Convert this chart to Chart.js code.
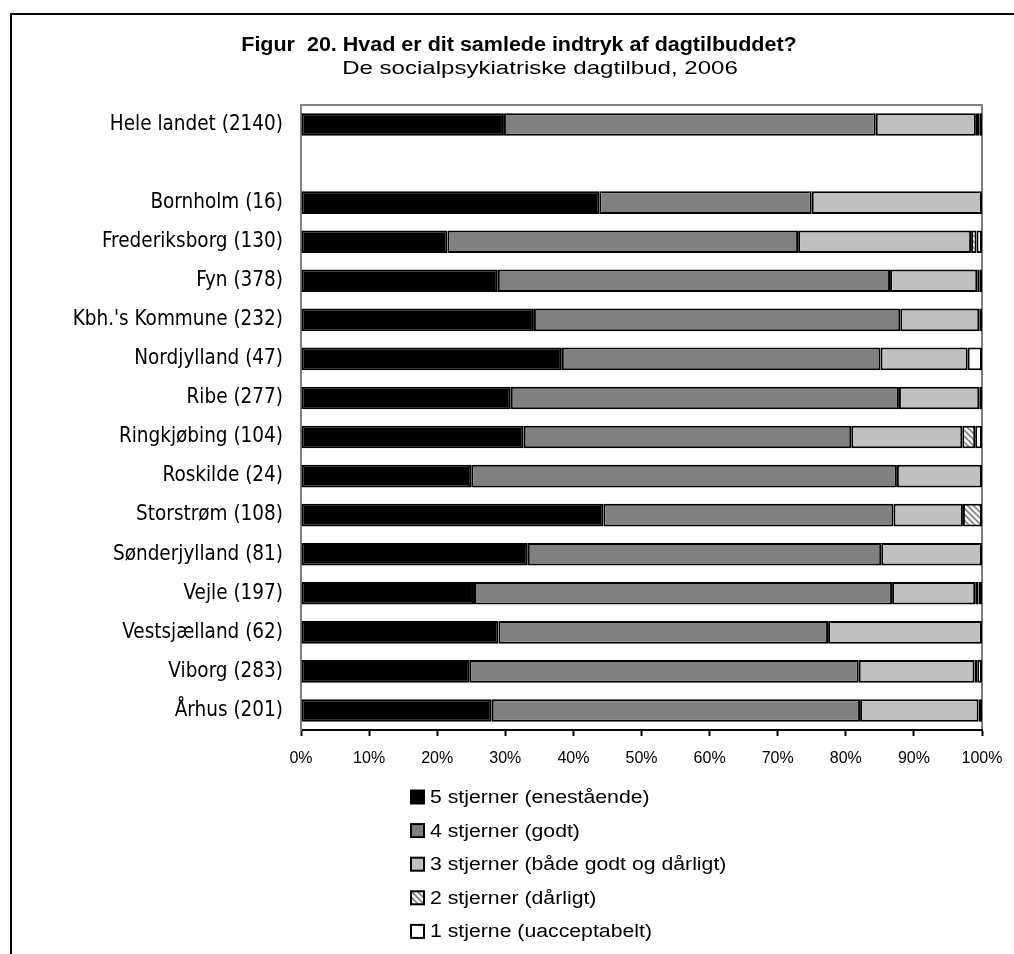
<!DOCTYPE html>
<html>
<head>
<meta charset="utf-8">
<script src="https://cdn.jsdelivr.net/npm/chart.js@4"></script>
<style>
  html, body { margin: 0; padding: 0; background: #fff; }
  #wrap { width: 1014px; height: 954px; }
</style>
</head>
<body>
<div id="wrap"><canvas id="starsChart" width="1014" height="954"></canvas></div>
<script>
const regions = [
  "Hele landet (2140)", "",
  "Bornholm (16)", "Frederiksborg (130)", "Fyn (378)", "Kbh.'s Kommune (232)",
  "Nordjylland (47)", "Ribe (277)", "Ringkjøbing (104)", "Roskilde (24)",
  "Storstrøm (108)", "Sønderjylland (81)", "Vejle (197)", "Vestsjælland (62)",
  "Viborg (283)", "Århus (201)",
];

// percentages per region, same order as above (null = spacer row)
const star5 = [29.8, null, 43.8, 21.5, 28.9, 34.2, 38.3, 30.8, 32.7, 25.0, 44.4, 33.3, 25.4, 29.0, 24.7, 28.0];
const star4 = [54.6, null, 31.2, 51.5, 57.6, 53.8, 46.8, 57.0, 48.1, 62.5, 42.6, 51.9, 61.4, 48.4, 57.2, 54.1];
const star3 = [14.7, null, 25.0, 25.4, 12.8, 11.6, 12.8, 11.8, 16.3, 12.5, 10.2, 14.8, 12.2, 22.6, 17.0, 17.4];
const star2 = [0.5, null, 0, 0.8, 0.3, 0, 0, 0, 1.9, 0, 2.8, 0, 0.5, 0, 0.4, 0.5];
const star1 = [0.4, null, 0, 0.8, 0.4, 0.4, 2.1, 0.4, 1.0, 0, 0, 0, 0.5, 0, 0.7, 0];

const seriesNames = [
  "5 stjerner (enestående)",
  "4 stjerner (godt)",
  "3 stjerner (både godt og dårligt)",
  "2 stjerner (dårligt)",
  "1 stjerne (uacceptabelt)",
];
const xTicks = [0, 10, 20, 30, 40, 50, 60, 70, 80, 90, 100];

const titleText = "Figur  20. Hvad er dit samlede indtryk af dagtilbuddet?";
const subtitleText = "De socialpsykiatriske dagtilbud, 2006";

const labelFont = "'DejaVu Sans Condensed', 'DejaVu Sans', sans-serif";
const arial = "'Liberation Sans', Arial, sans-serif";

// hatch for the "2 stjerner" series
function makeHatch() {
  const c = document.createElement("canvas");
  c.width = 6;
  c.height = 6;
  const g = c.getContext("2d");
  g.fillStyle = "#fff";
  g.fillRect(0, 0, 6, 6);
  g.strokeStyle = "#808080";
  g.lineWidth = 1.6;
  g.beginPath();
  g.moveTo(-1, -1); g.lineTo(7, 7);
  g.moveTo(-4, 2); g.lineTo(4, 10);
  g.moveTo(2, -4); g.lineTo(10, 4);
  g.stroke();
  return g.createPattern(c, "repeat");
}
const hatch = makeHatch();

const fills = ["#000000", "#808080", "#c0c0c0", hatch, "#ffffff"];
const values = [star5, star4, star3, star2, star1];

// text drawn a bit wider than the font, like the original export
function wideText(ctx, text, x, y, font, sx, align) {
  ctx.save();
  ctx.translate(x, y);
  ctx.scale(sx, 1);
  ctx.font = font;
  ctx.textAlign = align;
  ctx.fillText(text, 0, 0);
  ctx.restore();
}

const framePlugin = {
  id: "frame",
  beforeDraw(chart) {
    const ctx = chart.ctx;
    const a = chart.chartArea;
    ctx.save();
    ctx.fillStyle = "#fff";
    ctx.fillRect(0, 0, chart.width, chart.height);
    // outer figure border (left + top)
    ctx.strokeStyle = "#000";
    ctx.lineWidth = 2;
    ctx.beginPath();
    ctx.moveTo(11, chart.height);
    ctx.lineTo(11, 14);
    ctx.lineTo(chart.width, 14);
    ctx.stroke();
    // titles
    ctx.fillStyle = "#000";
    ctx.textBaseline = "alphabetic";
    wideText(ctx, titleText, 519, 51, "bold 20px " + arial, 1.075, "center");
    wideText(ctx, subtitleText, 540, 74, "18.5px " + arial, 1.3, "center");
    // plot area frame
    ctx.strokeStyle = "#808080";
    ctx.lineWidth = 2;
    ctx.beginPath();
    ctx.moveTo(a.left, a.top);
    ctx.lineTo(a.right, a.top);
    ctx.lineTo(a.right, a.bottom);
    ctx.stroke();
    ctx.restore();
  },
  afterDraw(chart) {
    const ctx = chart.ctx;
    ctx.save();
    seriesNames.forEach((name, i) => {
      const y = 797 + i * 33.6;
      ctx.fillStyle = fills[i];
      ctx.fillRect(411, y - 6.5, 13, 13);
      ctx.strokeStyle = "#000";
      ctx.lineWidth = 2;
      ctx.strokeRect(411, y - 6.5, 13, 13);
      ctx.fillStyle = "#000";
      ctx.textBaseline = "middle";
      wideText(ctx, name, 430, y + 1, "18px " + arial, 1.18, "left");
    });
    ctx.restore();
  },
};

Chart.defaults.font.family = arial;
Chart.defaults.color = "#000";

const starsChart = new Chart(document.getElementById("starsChart"), {
  type: "bar",
  data: {
    labels: regions,
    datasets: values.map((vals, i) => ({
      label: seriesNames[i],
      data: vals,
      backgroundColor: fills[i],
      borderColor: "#000",
      borderWidth: 2,
      borderSkipped: false,
      categoryPercentage: 1,
      barPercentage: 0.58,
    })),
  },
  plugins: [framePlugin],
  options: {
    indexAxis: "y",
    responsive: false,
    maintainAspectRatio: false,
    animation: false,
    layout: {
      padding: { left: 0, top: 105, right: 32, bottom: 184 },
    },
    scales: {
      x: {
        stacked: true,
        min: 0,
        max: 100,
        afterBuildTicks: (scale) => {
          scale.ticks = xTicks.map((v) => ({ value: v }));
        },
        afterFit: (scale) => {
          scale.height = 40;
          scale.paddingLeft = 0;
          scale.paddingRight = 0;
        },
        ticks: {
          callback: (v) => v + "%",
          color: "#000",
          padding: 13,
          maxRotation: 0,
          font: { size: 16 },
        },
        grid: {
          drawOnChartArea: false,
          drawTicks: true,
          tickLength: 6,
          tickWidth: 2,
          color: "#000",
        },
        border: {
          color: "#000",
          width: 2,
        },
      },
      y: {
        stacked: true,
        afterFit: (scale) => {
          scale.width = 301;
        },
        ticks: {
          color: "#000",
          padding: 18,
          autoSkip: false,
          font: { family: labelFont, size: 20.5 },
        },
        grid: {
          display: false,
          drawTicks: false,
          tickLength: 0,
        },
        border: {
          color: "#808080",
          width: 2,
        },
      },
    },
    plugins: {
      legend: { display: false },
      title: { display: false },
      tooltip: { enabled: false },
    },
  },
});
</script>
</body>
</html>
